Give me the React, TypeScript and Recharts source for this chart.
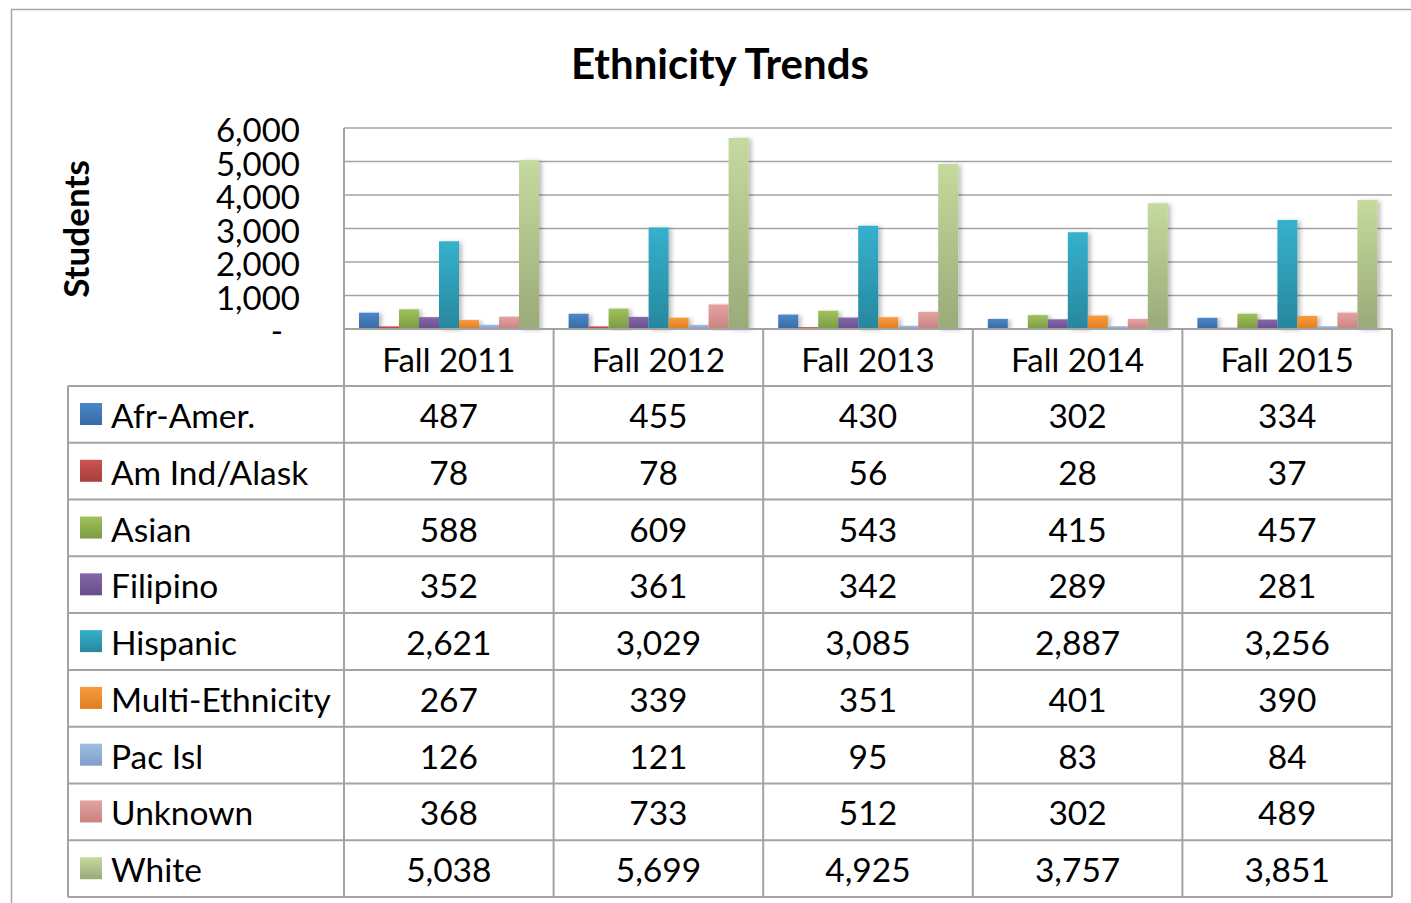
import { BarChart, Bar, XAxis, YAxis, CartesianGrid } from "recharts";

const years = ["Fall 2011", "Fall 2012", "Fall 2013", "Fall 2014", "Fall 2015"];

const afrAmer = [487, 455, 430, 302, 334];
const amIndAlask = [78, 78, 56, 28, 37];
const asian = [588, 609, 543, 415, 457];
const filipino = [352, 361, 342, 289, 281];
const hispanic = [2621, 3029, 3085, 2887, 3256];
const multiEthnicity = [267, 339, 351, 401, 390];
const pacIsl = [126, 121, 95, 83, 84];
const unknown = [368, 733, 512, 302, 489];
const white = [5038, 5699, 4925, 3757, 3851];

const seriesNames = [
  "Afr-Amer.",
  "Am Ind/Alask",
  "Asian",
  "Filipino",
  "Hispanic",
  "Multi-Ethnicity",
  "Pac Isl",
  "Unknown",
  "White",
];
const seriesValues = [afrAmer, amIndAlask, asian, filipino, hispanic, multiEthnicity, pacIsl, unknown, white];

const yTicks = [0, 1000, 2000, 3000, 4000, 5000, 6000];

// top / bottom gradient colours, Excel 2007 palette
const seriesColors = [
  ["#4a88c9", "#386aa3"],
  ["#cc5350", "#a63f3c"],
  ["#9ec25b", "#7c9a44"],
  ["#8567ab", "#684f88"],
  ["#35b1cd", "#27879e"],
  ["#f89b3f", "#df7e20"],
  ["#a0bfe3", "#7e9ec8"],
  ["#e3a3a1", "#c98381"],
  ["#c5da9d", "#9aaa79"],
];

const data = years.map((year, i) => {
  const row: Record<string, string | number> = { year };
  seriesValues.forEach((vals, j) => {
    row["s" + j] = vals[i];
  });
  return row;
});

const W = 1411;
const H = 903;
const PLOT_LEFT = 344;
const PLOT_RIGHT = 1392;
const PLOT_TOP = 128;
const AXIS_Y = 329;
const HEADER_BOTTOM = 386;
const TABLE_BOTTOM = 897;
const TABLE_LEFT = 68;
const FONT = "Lato, 'Open Sans', sans-serif";
const GRID = "#a3a3a3";

const fmt = (v: number) => v.toLocaleString("en-US");

const YTick = (props: any) => {
  const { x, y, payload } = props;
  const zero = payload.value === 0;
  return (
    <text x={zero ? x - 17 : x} y={y + 14} textAnchor="end" fontSize={33} fill="#000" fontFamily={FONT}>
      {zero ? "-" : fmt(payload.value)}
    </text>
  );
};

const XTick = (props: any) => {
  const { x, y, payload } = props;
  return (
    <text x={x} y={y + 43} textAnchor="middle" fontSize={33} fill="#000" fontFamily={FONT}>
      {payload.value}
    </text>
  );
};

function DataTable() {
  const colW = (PLOT_RIGHT - PLOT_LEFT) / years.length;
  const rowH = (TABLE_BOTTOM - HEADER_BOTTOM) / seriesNames.length;
  return (
    <svg width={W} height={H} style={{ position: "absolute", left: 0, top: 0, pointerEvents: "none" }}>
      <defs>
        {seriesColors.map((c, i) => (
          <linearGradient key={i} id={"key" + i} x1="0" y1="0" x2="0" y2="1">
            <stop offset="0%" stopColor={c[0]} />
            <stop offset="100%" stopColor={c[1]} />
          </linearGradient>
        ))}
      </defs>
      <rect x={11.5} y={9.5} width={1420} height={920} fill="none" stroke="#a6a6a6" strokeWidth={1.5} />
      <text x={720} y={79} textAnchor="middle" fontSize={42} fontWeight={700} fontFamily={FONT}>
        Ethnicity Trends
      </text>
      <text
        x={89}
        y={229}
        textAnchor="middle"
        fontSize={35}
        fontWeight={700}
        fontFamily={FONT}
        transform="rotate(-90 89 229)"
      >
        Students
      </text>
      {/* header row verticals */}
      {years.map((_, i) => (
        <line
          key={"hv" + i}
          x1={PLOT_LEFT + colW * (i + 1)}
          x2={PLOT_LEFT + colW * (i + 1)}
          y1={AXIS_Y}
          y2={TABLE_BOTTOM}
          stroke={GRID}
          strokeWidth={2}
        />
      ))}
      <line x1={PLOT_LEFT} x2={PLOT_LEFT} y1={AXIS_Y} y2={TABLE_BOTTOM} stroke={GRID} strokeWidth={2} />
      <line x1={TABLE_LEFT} x2={TABLE_LEFT} y1={HEADER_BOTTOM} y2={TABLE_BOTTOM} stroke={GRID} strokeWidth={2} />
      {seriesNames.map((_, r) => (
        <line
          key={"hr" + r}
          x1={TABLE_LEFT}
          x2={PLOT_RIGHT}
          y1={HEADER_BOTTOM + rowH * r}
          y2={HEADER_BOTTOM + rowH * r}
          stroke={GRID}
          strokeWidth={2}
        />
      ))}
      <line x1={TABLE_LEFT} x2={PLOT_RIGHT} y1={TABLE_BOTTOM} y2={TABLE_BOTTOM} stroke={GRID} strokeWidth={2} />
      {seriesNames.map((name, r) => {
        const top = HEADER_BOTTOM + rowH * r;
        return (
          <g key={name}>
            <rect x={80} y={top + 17} width={22} height={22} fill={`url(#key${r})`} />
            <text x={111} y={top + 42} fontSize={33.5} fontFamily={FONT}>
              {name}
            </text>
            {seriesValues[r].map((v, c) => (
              <text
                key={c}
                x={PLOT_LEFT + colW * (c + 0.5)}
                y={top + 42}
                textAnchor="middle"
                fontSize={33.5}
                fontFamily={FONT}
              >
                {fmt(v)}
              </text>
            ))}
          </g>
        );
      })}
    </svg>
  );
}

export default function App() {
  return (
    <div style={{ position: "absolute", left: 0, top: 0, width: W, height: H, background: "#fff", fontFamily: FONT }}>
      <BarChart
        width={W}
        height={H}
        data={data}
        margin={{ top: PLOT_TOP, right: W - PLOT_RIGHT, left: 0, bottom: H - HEADER_BOTTOM }}
        barCategoryGap={15}
        barGap={0}
      >
        <defs>
          {seriesColors.map((c, i) => (
            <linearGradient key={i} id={"bar" + i} x1="0" y1="0" x2="0" y2="1">
              <stop offset="0%" stopColor={c[0]} />
              <stop offset="100%" stopColor={c[1]} />
            </linearGradient>
          ))}
          <filter id="shadow" x="-20%" y="-5%" width="160%" height="110%">
            <feDropShadow dx={3} dy={1} stdDeviation={2} floodColor="#000" floodOpacity={0.25} />
          </filter>
        </defs>
        <CartesianGrid horizontal vertical={false} stroke={GRID} strokeWidth={1.5} />
        <XAxis
          dataKey="year"
          height={HEADER_BOTTOM - AXIS_Y}
          tickLine={false}
          tickSize={0}
          tickMargin={0}
          axisLine={{ stroke: GRID, strokeWidth: 2 }}
          tick={<XTick />}
          interval={0}
        />
        <YAxis
          width={PLOT_LEFT}
          domain={[0, 6000]}
          ticks={yTicks}
          tickLine={false}
          tickSize={0}
          tickMargin={44}
          axisLine={{ stroke: GRID, strokeWidth: 2 }}
          tick={<YTick />}
          interval={0}
        />
        {seriesNames.map((name, i) => (
          <Bar
            key={name}
            dataKey={"s" + i}
            name={name}
            fill={`url(#bar${i})`}
            filter="url(#shadow)"
            isAnimationActive={false}
          />
        ))}
      </BarChart>
      <DataTable />
    </div>
  );
}
